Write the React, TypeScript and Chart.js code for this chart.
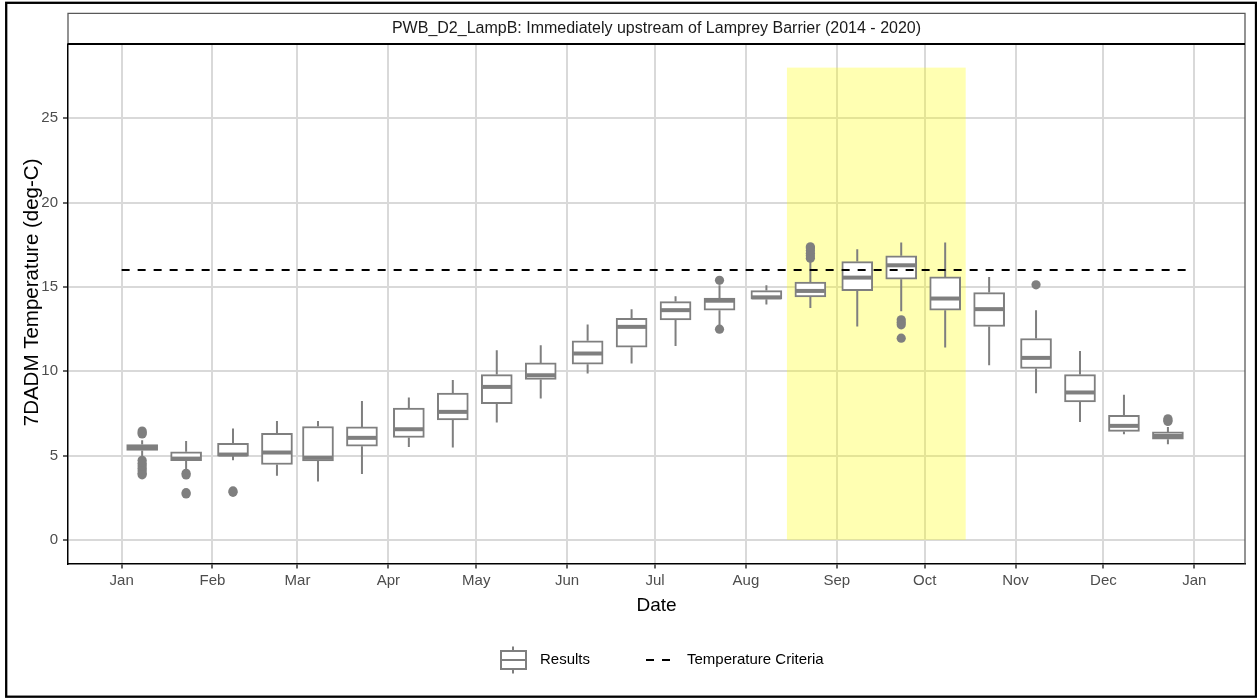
import React, { useEffect, useRef } from 'react';
import { Chart, registerables } from 'chart.js';

Chart.register(...registerables);

// ---------- data ----------
const chartTitle = 'PWB_D2_LampB: Immediately upstream of Lamprey Barrier (2014 - 2020)';
const xTitle = 'Date';
const yTitle = '7DADM Temperature (deg-C)';

// day-of-year (leap year) of month starts, used as x ticks
const monthTickDays = [0, 31, 60, 91, 121, 152, 182, 213, 244, 274, 305, 335, 366];
const monthLabels = ['Jan', 'Feb', 'Mar', 'Apr', 'May', 'Jun', 'Jul', 'Aug', 'Sep', 'Oct', 'Nov', 'Dec', 'Jan'];
const yTickValues = [0, 5, 10, 15, 20, 25];

// semi-monthly box positions (day of year)
const boxDays = [7, 22, 38, 53, 67, 82, 98, 113, 128, 143, 159, 174, 189, 204, 220, 235, 251, 266, 281, 296, 312, 327, 342, 357];
const whiskerLow = [4.95, 4.2, 4.72, 3.8, 3.46, 3.9, 5.5, 5.48, 6.96, 8.38, 9.86, 10.46, 11.5, 12.73, 13.95, 13.75, 12.65, 13.56, 11.4, 10.36, 8.7, 6.99, 6.27, 5.67];
const q1 = [5.3, 4.7, 4.97, 4.47, 4.68, 5.55, 6.07, 7.11, 8.08, 9.51, 10.42, 11.42, 13.04, 13.62, 14.27, 14.4, 14.78, 15.45, 13.62, 12.65, 10.16, 8.18, 6.43, 5.97];
const median = [5.46, 4.82, 5.06, 5.18, 4.88, 6.05, 6.56, 7.59, 9.07, 9.76, 11.05, 12.63, 13.62, 14.18, 14.38, 14.76, 15.55, 16.28, 14.31, 13.68, 10.79, 8.74, 6.76, 6.16];
const q3 = [5.65, 5.22, 5.73, 6.32, 6.72, 6.7, 7.81, 8.7, 9.8, 10.49, 11.8, 13.14, 14.13, 14.33, 14.78, 15.29, 16.5, 16.84, 15.59, 14.66, 11.94, 9.8, 7.39, 6.4];
const whiskerHigh = [5.9, 5.87, 6.6, 7.05, 7.05, 8.24, 8.44, 9.48, 11.24, 11.54, 12.77, 13.68, 14.45, 15.1, 15.1, 16.55, 17.23, 17.63, 17.63, 15.59, 13.62, 11.2, 8.6, 6.7];
const outliers = [
  [6.45, 6.35, 6.28, 4.72, 4.55, 4.4, 4.25, 4.1, 3.95, 3.86],
  [3.95, 3.85, 2.8, 2.72],
  [2.9, 2.82],
  [], [], [], [], [], [], [], [], [], [],
  [15.39, 12.49],
  [],
  [16.7, 16.85, 17.0, 17.15, 17.3, 17.38],
  [],
  [13.05, 12.9, 12.75, 11.96],
  [], [],
  [15.12],
  [], [],
  [7.02, 7.1, 7.18],
];

const criteriaValue = 16;
const criteriaDays = [0, 365];
const highlightDays = [227, 288]; // Aug 15 - Oct 15
const highlightRange = [0, 28];

const seriesLabels = ['Results', 'Temperature Criteria'];

// ---------- styling ----------
const FONT = "'Liberation Sans', Arial, Helvetica, sans-serif";
const BOX_GREY = '#7f7f7f';
const GRID = '#d9d9d9';
const BOX_PX = 31;

export default function App() {
  const ref = useRef<HTMLCanvasElement | null>(null);

  useEffect(() => {
    document.body.style.margin = '0';
    const canvas = ref.current;
    if (!canvas) return;
    Chart.defaults.font.family = FONT;

    const boxData = boxDays.map((d, i) => ({ x: d, y: [q1[i], q3[i]] }));
    const outlierData: { x: number; y: number }[] = [];
    outliers.forEach((arr, i) => arr.forEach((v) => outlierData.push({ x: boxDays[i], y: v })));

    const extras = {
      id: 'extras',
      beforeDatasetsDraw(chart: any) {
        const { ctx, scales } = chart;
        const x = scales.x, y = scales.y;
        const x0 = x.getPixelForValue(highlightDays[0]);
        const x1 = x.getPixelForValue(highlightDays[1]);
        const y0 = y.getPixelForValue(highlightRange[0]);
        const y1 = y.getPixelForValue(highlightRange[1]);
        ctx.save();
        ctx.fillStyle = 'rgba(255,255,0,0.3)';
        ctx.fillRect(x0, y1, x1 - x0, y0 - y1);
        ctx.restore();
      },
      afterDatasetDraw(chart: any, args: any) {
        if (args.index !== 0) return;
        const { ctx, scales } = chart;
        const x = scales.x, y = scales.y;
        ctx.save();
        ctx.strokeStyle = BOX_GREY;
        ctx.lineCap = 'butt';
        boxDays.forEach((d, i) => {
          const px = x.getPixelForValue(d);
          ctx.lineWidth = 2;
          ctx.beginPath();
          ctx.moveTo(px, y.getPixelForValue(whiskerLow[i]));
          ctx.lineTo(px, y.getPixelForValue(q1[i]));
          ctx.moveTo(px, y.getPixelForValue(q3[i]));
          ctx.lineTo(px, y.getPixelForValue(whiskerHigh[i]));
          ctx.stroke();
          ctx.lineWidth = 4;
          const my = y.getPixelForValue(median[i]);
          ctx.beginPath();
          ctx.moveTo(px - BOX_PX / 2 + 1, my);
          ctx.lineTo(px + BOX_PX / 2 - 1, my);
          ctx.stroke();
        });
        ctx.restore();
      },
      afterDraw(chart: any) {
        const { ctx, chartArea } = chart;
        const { left, right, top, bottom } = chartArea;
        ctx.save();
        // strip
        ctx.strokeStyle = '#595959';
        ctx.lineWidth = 1.3;
        ctx.beginPath();
        ctx.moveTo(left, top);
        ctx.lineTo(left, 13.3);
        ctx.lineTo(right, 13.3);
        ctx.lineTo(right, top);
        ctx.stroke();
        ctx.fillStyle = '#1a1a1a';
        ctx.font = `16px ${FONT}`;
        ctx.textAlign = 'center';
        ctx.textBaseline = 'middle';
        ctx.fillText(chartTitle, (left + right) / 2, 29);
        // panel right border
        ctx.strokeStyle = '#595959';
        ctx.lineWidth = 1.3;
        ctx.beginPath();
        ctx.moveTo(right, top);
        ctx.lineTo(right, bottom);
        ctx.stroke();
        // panel top line
        ctx.strokeStyle = '#000';
        ctx.lineWidth = 2;
        ctx.beginPath();
        ctx.moveTo(left, top);
        ctx.lineTo(right, top);
        ctx.stroke();

        // y axis title (centred on panel + strip)
        ctx.save();
        ctx.translate(32, (13.3 + bottom) / 2 + 4);
        ctx.rotate(-Math.PI / 2);
        ctx.fillStyle = '#000';
        ctx.font = `20.5px ${FONT}`;
        ctx.textAlign = 'center';
        ctx.textBaseline = 'middle';
        ctx.fillText(yTitle, 0, 0);
        ctx.restore();

        // legend
        const ly = 660;
        ctx.strokeStyle = BOX_GREY;
        ctx.lineWidth = 2;
        ctx.beginPath();
        ctx.moveTo(513, 646.5);
        ctx.lineTo(513, 651);
        ctx.moveTo(513, 669);
        ctx.lineTo(513, 673.5);
        ctx.stroke();
        ctx.fillStyle = '#fff';
        ctx.fillRect(501, 651, 25, 18);
        ctx.strokeRect(501, 651, 25, 18);
        ctx.beginPath();
        ctx.moveTo(501, ly);
        ctx.lineTo(526, ly);
        ctx.stroke();
        ctx.strokeStyle = '#000';
        ctx.setLineDash([8, 8]);
        ctx.beginPath();
        ctx.moveTo(646, ly);
        ctx.lineTo(671, ly);
        ctx.stroke();
        ctx.setLineDash([]);
        ctx.fillStyle = '#000';
        ctx.font = `15px ${FONT}`;
        ctx.textAlign = 'left';
        ctx.textBaseline = 'middle';
        ctx.fillText(chart.data.datasets[0].label, 540, ly);
        ctx.fillText(chart.data.datasets[2].label, 687, ly);

        // outer frame
        ctx.strokeStyle = '#000';
        ctx.lineWidth = 2.3;
        ctx.strokeRect(6.2, 2.8, 1249.8, 693.9);
        ctx.restore();
      },
    };

    const chart = new Chart(canvas, {
      type: 'scatter',
      data: {
        datasets: [
          {
            type: 'bar',
            label: seriesLabels[0],
            data: boxData as any,
            backgroundColor: '#ffffff',
            borderColor: BOX_GREY,
            borderWidth: 2,
            borderSkipped: false,
            barThickness: BOX_PX,
            order: 3,
          } as any,
          {
            type: 'scatter',
            label: 'outliers',
            data: outlierData,
            pointRadius: 4.6,
            pointBackgroundColor: BOX_GREY,
            pointBorderColor: BOX_GREY,
            pointBorderWidth: 0,
            order: 2,
          } as any,
          {
            type: 'line',
            label: seriesLabels[1],
            data: criteriaDays.map((d) => ({ x: d, y: criteriaValue })),
            borderColor: '#000',
            borderWidth: 2,
            borderDash: [8, 8],
            pointRadius: 0,
            fill: false,
            showLine: true,
            order: 1,
          } as any,
        ],
      },
      options: {
        animation: false,
        responsive: false,
        devicePixelRatio: 1,
        layout: { padding: { top: 44, right: 12, bottom: 78, left: 0 } },
        plugins: { legend: { display: false }, tooltip: { enabled: false }, title: { display: false } },
        scales: {
          x: {
            type: 'linear',
            min: -18.3,
            max: 383.3,
            offset: false,
            afterBuildTicks: (s: any) => {
              s.ticks = monthTickDays.map((v) => ({ value: v }));
            },
            afterFit: (s: any) => {
              s.height = 56.5;
            },
            ticks: {
              autoSkip: false,
              maxRotation: 0,
              minRotation: 0,
              color: '#4d4d4d',
              font: { size: 15, family: FONT },
              padding: 3,
              callback: (_v: any, i: number) => monthLabels[i],
            },
            grid: { color: GRID, lineWidth: 2, tickLength: 5, tickColor: '#333333', tickWidth: 1.5, offset: false },
            border: { display: true, color: '#000', width: 1.5 },
            title: { display: true, text: xTitle, color: '#000', font: { size: 19, family: FONT }, padding: { top: 0, bottom: 3 } },
          },
          y: {
            type: 'linear',
            min: -1.4,
            max: 29.4,
            afterBuildTicks: (s: any) => {
              s.ticks = yTickValues.map((v) => ({ value: v }));
            },
            afterFit: (s: any) => {
              s.width = 68;
            },
            ticks: { color: '#4d4d4d', font: { size: 15, family: FONT }, padding: 5 },
            grid: { color: GRID, lineWidth: 2, tickLength: 5, tickColor: '#333333', tickWidth: 1.5 },
            border: { display: true, color: '#000', width: 1.5 },
            title: { display: false, text: yTitle },
          },
        },
      } as any,
      plugins: [extras],
    });

    return () => chart.destroy();
  }, []);

  return (
    <div style={{ width: 1257, height: 698, position: 'relative' }}>
      <canvas ref={ref} width={1257} height={698} style={{ display: 'block', width: 1257, height: 698 }} />
    </div>
  );
}
